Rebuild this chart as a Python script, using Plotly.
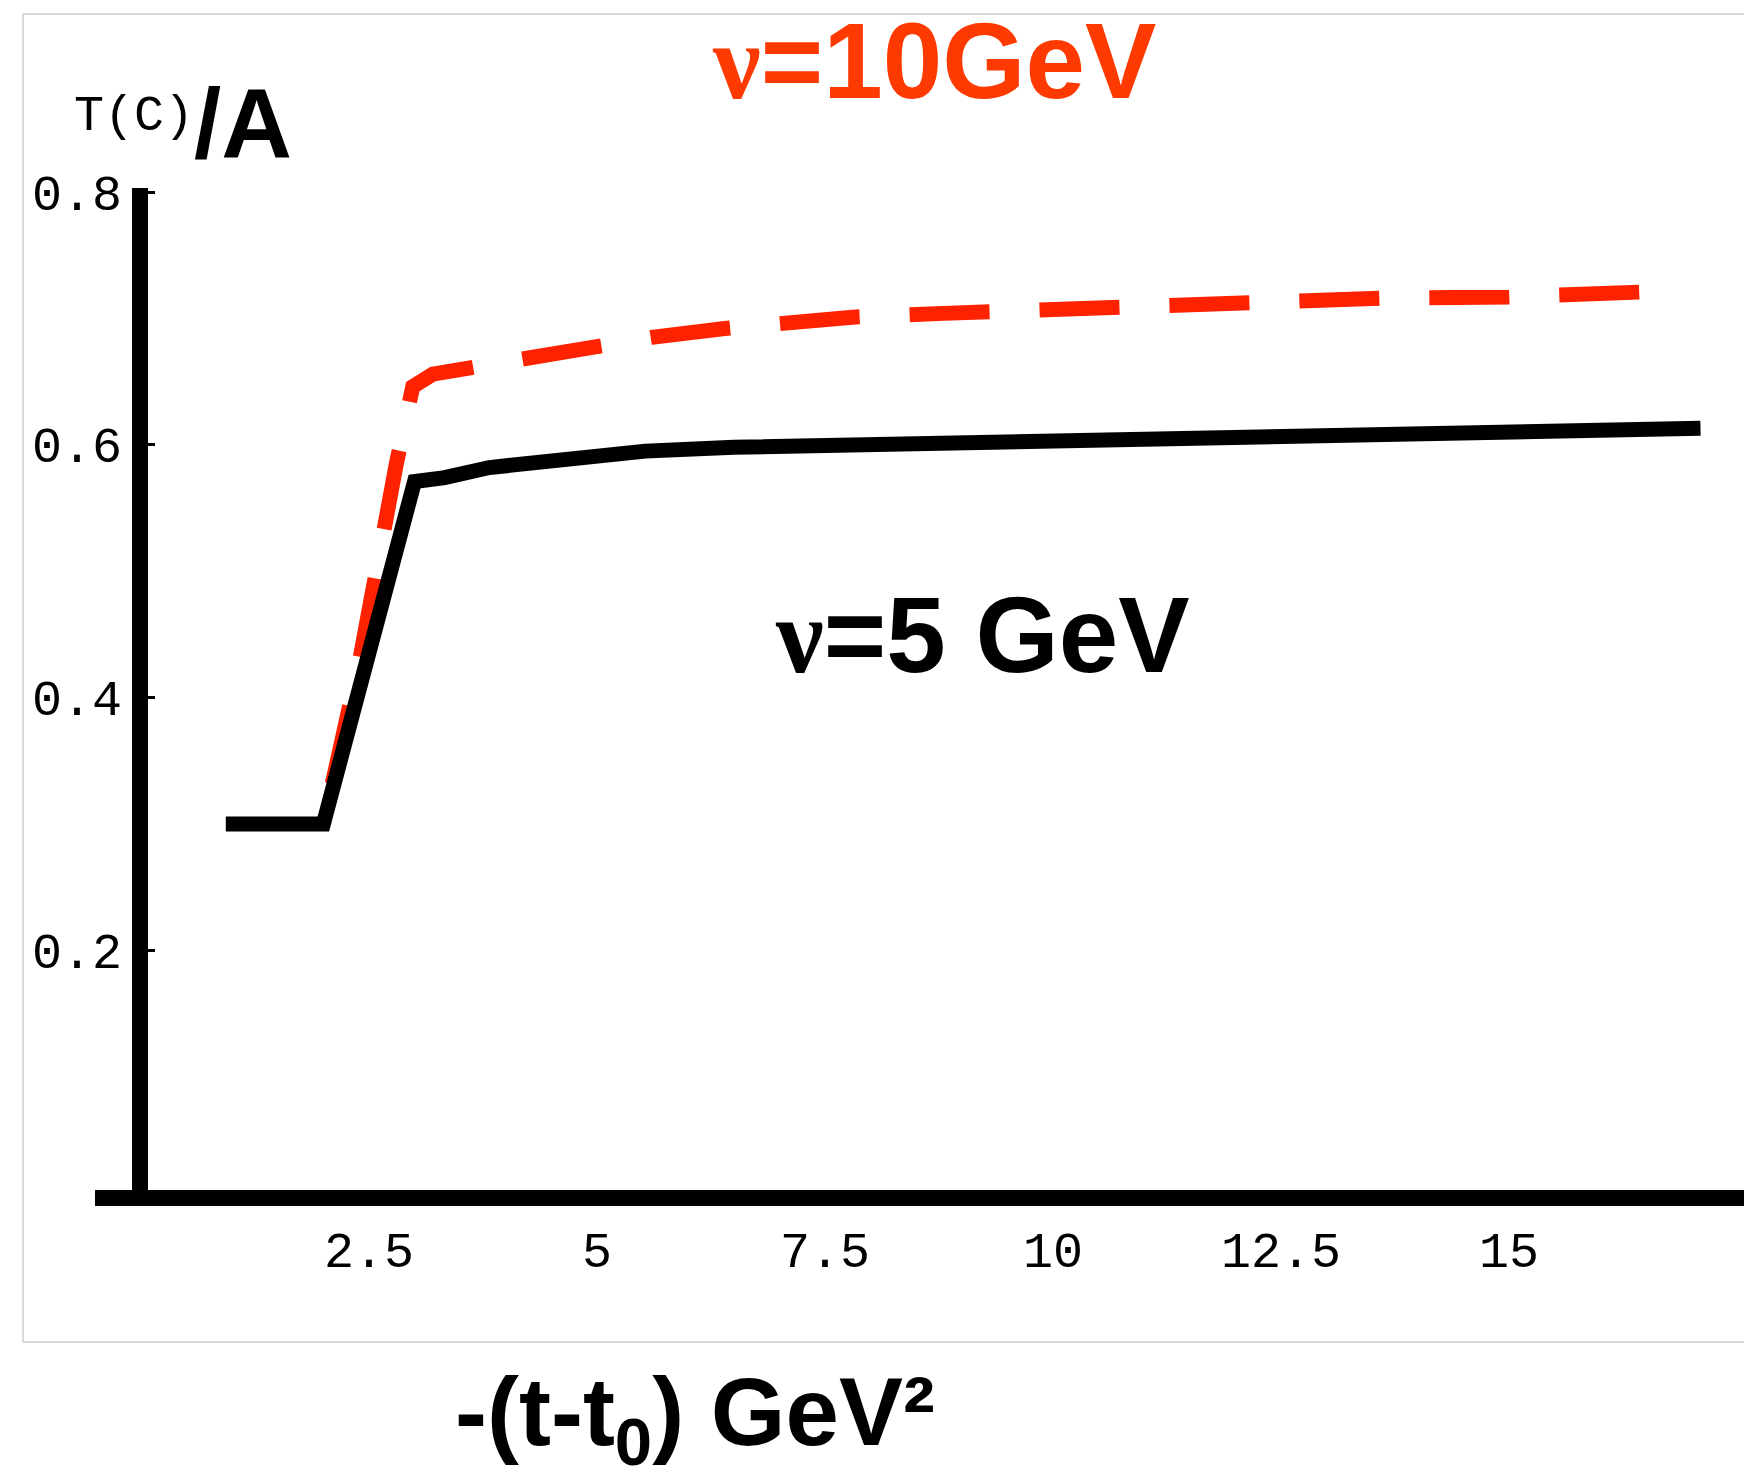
import plotly.graph_objects as go

# ---- data ----
x_nu5 = [0.93, 2.0, 3.0, 3.33, 3.82, 4.31, 4.8, 5.53, 6.5, 8.58, 10.53, 13.09, 15.53, 17.1]
y_nu5 = [0.300, 0.300, 0.571, 0.574, 0.582, 0.586, 0.590, 0.595, 0.598, 0.601, 0.606, 0.607, 0.611, 0.613]

x_nu10 = [2.0, 2.4, 2.8, 2.98, 3.2, 3.6, 4.2, 5.0, 5.6, 6.4, 7.0, 7.8, 8.8, 10.6, 12.2, 13.6, 15.0, 16.5]
y_nu10 = [0.300, 0.430, 0.585, 0.646, 0.656, 0.661, 0.670, 0.679, 0.685, 0.692, 0.696, 0.701, 0.704,
          0.709, 0.712, 0.716, 0.717, 0.721]

x_tickvals = [2.5, 5, 7.5, 10, 12.5, 15]
x_ticktext = ["2.5", "5", "7.5", "10", "12.5", "15"]
y_tickvals = [0.2, 0.4, 0.6, 0.8]
y_ticktext = ["0.2", "0.4", "0.6", "0.8"]

W, H = 1744, 1478
def px(x):
    return x / W
def py(y):
    return 1 - y / H

RED_LINE = "#ff2200"
RED_TEXT = "#ff3a00"
MONO = "Liberation Mono, Courier New, monospace"
SANS = "Liberation Sans, Arial, sans-serif"

fig = go.Figure()
fig.add_trace(go.Scatter(x=x_nu10, y=y_nu10, mode="lines",
                         line=dict(color=RED_LINE, width=15, dash="0px,41px,80px,9px"),
                         showlegend=False, hoverinfo="skip"))
fig.add_trace(go.Scatter(x=x_nu5, y=y_nu5, mode="lines",
                         line=dict(color="black", width=15),
                         showlegend=False, hoverinfo="skip"))

fig.update_layout(
    width=W, height=H,
    margin=dict(l=0, r=0, t=0, b=0, pad=0, autoexpand=False),
    paper_bgcolor="white", plot_bgcolor="white",
    xaxis=dict(
        domain=[px(95), 1], range=[-0.504, 17.577],
        automargin=False,
        showgrid=False, zeroline=False, showline=False,
        tickmode="array", tickvals=x_tickvals, ticktext=x_ticktext,
        ticks="", tickfont=dict(family=MONO, size=50, color="black"),
        ticklabelstandoff=18,
    ),
    yaxis=dict(
        domain=[py(1198), py(188)], range=[0.004, 0.8032],
        automargin=False,
        anchor="free", position=px(140),
        showgrid=False, zeroline=False,
        showline=True, linecolor="black", linewidth=16,
        tickmode="array", tickvals=y_tickvals, ticktext=y_ticktext,
        ticks="inside", ticklen=7, tickwidth=3, tickcolor="black",
        tickfont=dict(family=MONO, size=50, color="black"),
    ),
    shapes=[
        dict(type="rect", xref="paper", yref="paper",
             x0=px(23), x1=1.01, y0=py(1342), y1=py(14),
             line=dict(color="#dadada", width=2), layer="below"),
        # horizontal axis line along the bottom of the plotting area
        dict(type="line", xref="x domain", yref="y domain",
             x0=0, x1=1, y0=0, y1=0,
             line=dict(color="black", width=16), layer="above"),
    ],
)

annotations = [
    dict(text="T(C)", x=px(196), y=py(117), xanchor="right", yanchor="middle",
         font=dict(family=MONO, size=50, color="black")),
    dict(text="<b>/A</b>", x=px(192), y=py(123), xanchor="left", yanchor="middle",
         font=dict(family=SANS, size=98, color="black")),
    dict(text="<b><span style=\"font-family:'Liberation Serif'\">ν</span>=10GeV</b>",
         x=px(934), y=py(61), xanchor="center", yanchor="middle",
         font=dict(family=SANS, size=107, color=RED_TEXT)),
    dict(text="<b><span style=\"font-family:'Liberation Serif'\">ν</span>=5 GeV</b>",
         x=px(983), y=py(635), xanchor="center", yanchor="middle",
         font=dict(family=SANS, size=107, color="black")),
    dict(text="<b>-(t-t<sub>0</sub>) GeV²</b>",
         x=px(695), y=py(1418), xanchor="center", yanchor="middle",
         font=dict(family=SANS, size=96, color="black")),
]
for a in annotations:
    a.update(xref="paper", yref="paper", showarrow=False)
fig.update_layout(annotations=annotations)

fig.write_html("out.html")
